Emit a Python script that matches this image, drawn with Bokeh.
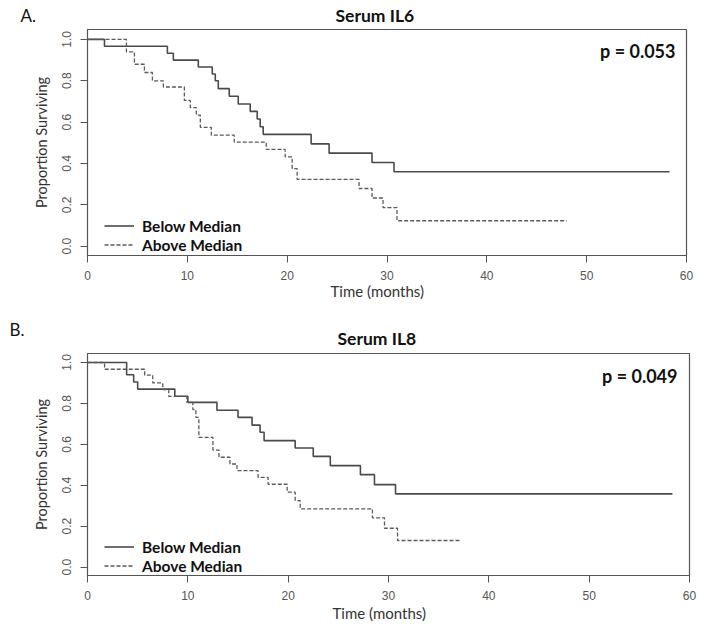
from bokeh.plotting import figure
from bokeh.layouts import column
from bokeh.models import Range1d, FixedTicker, PrintfTickFormatter, Label, Legend, LegendItem, Title
from bokeh.embed import file_html
from bokeh.resources import INLINE

# ---- data ----
x_ticks = [0, 10, 20, 30, 40, 50, 60]
y_ticks = [0.0, 0.2, 0.4, 0.6, 0.8, 1.0]

il6_below_t = [0, 1.7, 8.0, 8.6, 11.1, 12.5, 12.8, 13.1, 14.2, 15.1, 16.3, 17.0, 17.3, 17.6, 22.4, 24.2, 28.5, 30.7, 58.3]
il6_below_s = [1.0, 0.967, 0.933, 0.9, 0.867, 0.833, 0.8, 0.762, 0.725, 0.688, 0.652, 0.615, 0.578, 0.541, 0.495, 0.45, 0.405, 0.36, 0.36]

il6_above_t = [0, 3.9, 4.7, 5.7, 6.5, 7.6, 9.7, 10.3, 10.9, 11.3, 12.4, 14.7, 17.9, 19.8, 20.5, 21.0, 27.2, 28.5, 29.6, 31.0, 48.0]
il6_above_s = [1.0, 0.94, 0.88, 0.84, 0.80, 0.77, 0.705, 0.67, 0.634, 0.575, 0.537, 0.503, 0.468, 0.432, 0.375, 0.323, 0.279, 0.233, 0.187, 0.123, 0.123]

il8_below_t = [0, 3.9, 4.6, 5.0, 8.7, 10.0, 12.9, 15.0, 16.4, 17.2, 17.6, 20.7, 22.5, 24.2, 27.2, 28.6, 30.7, 58.3]
il8_below_s = [1.0, 0.94, 0.905, 0.87, 0.835, 0.805, 0.767, 0.732, 0.694, 0.659, 0.618, 0.582, 0.541, 0.496, 0.452, 0.403, 0.358, 0.358]

il8_above_t = [0, 1.7, 5.7, 6.5, 7.5, 8.1, 9.9, 10.5, 10.8, 11.1, 12.5, 13.1, 14.2, 14.9, 17.0, 18.0, 19.9, 20.7, 21.2, 28.4, 29.6, 30.9, 37.2]
il8_above_s = [1.0, 0.967, 0.938, 0.9, 0.868, 0.834, 0.805, 0.77, 0.732, 0.634, 0.572, 0.537, 0.504, 0.472, 0.439, 0.405, 0.366, 0.325, 0.285, 0.241, 0.19, 0.13, 0.13]

X_MAX = 60

# layout constants (pixels)
panels = [
    dict(letter="A.", title="Serum IL6", pval="p = 0.053",
         bt=il6_below_t, bs=il6_below_s, at=il6_above_t, as_=il6_above_s,
         left=87, top=29, fw=599, fh=226, bb=50, yr=(-0.045, 1.048),
         letter_px=(20, 15), title_off=248, title_sd=3.4, p_xy=(588, 205),
         xl_off=243, xl_sd=-4.6, leg=(17, 1)),
    dict(letter="B.", title="Serum IL8", pval="p = 0.049",
         bt=il8_below_t, bs=il8_below_s, at=il8_above_t, as_=il8_above_s,
         left=85, top=48, fw=602, fh=222, bb=47, yr=(-0.041, 1.044),
         letter_px=(7, 329), title_off=250, title_sd=4.8, p_xy=(590, 200),
         xl_off=245, xl_sd=-0.6, leg=(17, 0)),
]

AX = "#555555"
figs = []
page_top = 0
for d in panels:
    p = figure(frame_width=d["fw"], frame_height=d["fh"], output_backend="svg",
               toolbar_location=None, min_border_left=d["left"], min_border_right=20,
               min_border_top=d["top"], min_border_bottom=d["bb"],
               x_range=Range1d(0, X_MAX), y_range=Range1d(*d["yr"]))
    p.background_fill_color = "white"
    p.border_fill_color = "white"
    p.outline_line_color = AX
    p.outline_line_width = 1.2
    p.xgrid.visible = False
    p.ygrid.visible = False

    for ax in (p.xaxis[0], p.yaxis[0]):
        ax.axis_line_color = AX
        ax.major_tick_line_color = AX
        ax.minor_tick_line_color = None
        ax.major_tick_in = 0
        ax.major_tick_out = 7
        ax.major_label_text_font = "Liberation Sans"
        ax.major_label_text_font_size = "12px"
        ax.major_label_text_color = "#555555"
    p.xaxis[0].ticker = FixedTicker(ticks=x_ticks)
    p.yaxis[0].ticker = FixedTicker(ticks=y_ticks)
    p.yaxis[0].formatter = PrintfTickFormatter(format="%.1f")
    p.yaxis[0].major_label_orientation = "vertical"
    p.xaxis[0].major_label_standoff = 8
    p.yaxis[0].major_label_standoff = 9
    p.yaxis[0].axis_label = "Proportion Surviving"
    p.yaxis[0].axis_label_text_font = "Lato"
    p.yaxis[0].axis_label_text_font_style = "normal"
    p.yaxis[0].axis_label_text_font_size = "14.5px"
    p.yaxis[0].axis_label_text_color = "#333333"
    p.yaxis[0].axis_label_standoff = 10

    r1 = p.step(d["bt"], d["bs"], mode="after", line_color="#4a4a4a", line_width=1.6)
    r2 = p.step(d["at"], d["as_"], mode="after", line_color="#5a5a5a", line_width=1.3,
                line_dash="4 2")

    leg = Legend(items=[LegendItem(label="Below Median", renderers=[r1]),
                        LegendItem(label="Above Median", renderers=[r2])],
                 location=d["leg"], background_fill_alpha=0, border_line_color=None,
                 padding=0, margin=0, spacing=0, glyph_width=30, glyph_height=19,
                 label_height=19, label_standoff=8,
                 label_text_font="Lato", label_text_font_style="bold",
                 label_text_font_size="15.5px", label_text_color="#111111")
    p.add_layout(leg, "center")

    # panel title
    p.add_layout(Title(text=d["title"], align="left", offset=d["title_off"],
                       vertical_align="top", standoff=d["title_sd"],
                       text_font="Lato", text_font_style="bold", text_font_size="17.5px",
                       text_color="#111111"), "above")

    # panel letter, placed in the left side panel (not clipped by the frame)
    y0, y1 = d["yr"]
    lx = (d["letter_px"][0] - d["left"]) / d["fw"] * X_MAX
    ly = y1 + (d["top"] - (d["letter_px"][1] - page_top)) / d["fh"] * (y1 - y0)
    p.add_layout(Label(x=lx, y=ly, text=d["letter"], text_font="Lato", text_font_size="17px",
                       text_color="#111111", text_baseline="alphabetic", text_align="left"), "left")

    # x axis label
    p.add_layout(Title(text="Time (months)", align="left", offset=d["xl_off"],
                       vertical_align="bottom", standoff=d["xl_sd"],
                       text_font="Lato", text_font_style="normal", text_font_size="15px",
                       text_color="#333333"), "below")

    p.add_layout(Label(x=d["p_xy"][0], y=d["p_xy"][1], x_units="screen", y_units="screen",
                       text=d["pval"], text_font="Lato", text_font_style="bold",
                       text_font_size="18px", text_color="#111111",
                       text_baseline="middle", text_align="right"))
    figs.append(p)
    page_top += d["top"] + d["fh"] + d["bb"]

layout = column(*figs, spacing=0)
open("out.html", "w").write(file_html(layout, INLINE))
